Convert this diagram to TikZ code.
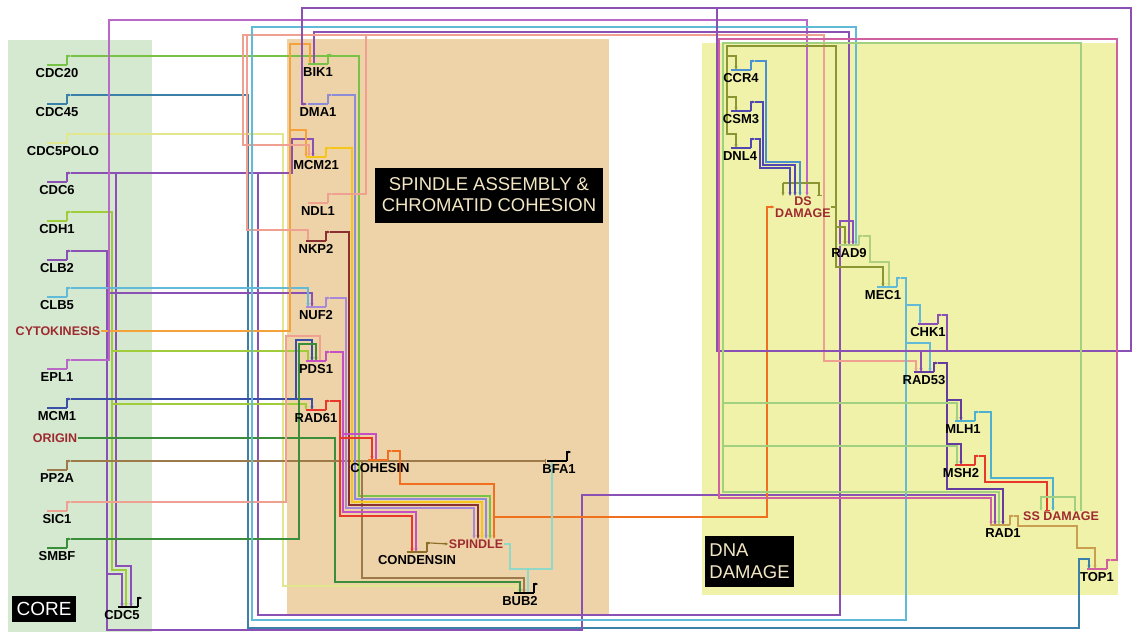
\documentclass[tikz,border=0pt]{standalone}
\usepackage{fontspec}
\setmainfont{Liberation Sans}
\usetikzlibrary{arrows.meta,calc}

\definecolor{corebg}{RGB}{213,232,208}
\definecolor{spinbg}{RGB}{239,211,168}
\definecolor{dnabg}{RGB}{240,242,170}
\definecolor{sigred}{RGB}{158,42,47}
\definecolor{boxtext}{RGB}{242,230,196}
\definecolor{cgreen}{RGB}{120,194,70}
\definecolor{cgreen2}{RGB}{160,208,128}
\definecolor{cteal}{RGB}{58,128,168}
\definecolor{cpale}{RGB}{226,230,140}
\definecolor{cpurple}{RGB}{138,80,180}
\definecolor{cdpurple}{RGB}{100,60,160}
\definecolor{cygreen}{RGB}{160,204,60}
\definecolor{clblue}{RGB}{96,186,216}
\definecolor{corange}{RGB}{246,162,58}
\definecolor{cmagenta}{RGB}{186,104,200}
\definecolor{cnavy}{RGB}{58,80,168}
\definecolor{cdgreen}{RGB}{58,142,58}
\definecolor{cbrown}{RGB}{156,122,74}
\definecolor{csalmon}{RGB}{240,160,144}
\definecolor{clav}{RGB}{140,140,216}
\definecolor{cyellow}{RGB}{245,197,24}
\definecolor{cdbrown}{RGB}{139,48,48}
\definecolor{clilac}{RGB}{168,136,216}
\definecolor{cpds}{RGB}{196,80,196}
\definecolor{cred}{RGB}{232,56,44}
\definecolor{cdorange}{RGB}{240,112,32}
\definecolor{colive}{RGB}{138,150,50}
\definecolor{cblue}{RGB}{74,144,208}
\definecolor{cindigo}{RGB}{80,72,176}
\definecolor{cpgreen}{RGB}{176,208,128}
\definecolor{ccyan}{RGB}{80,176,208}
\definecolor{ctan}{RGB}{200,160,80}
\definecolor{cpink}{RGB}{208,96,160}
\definecolor{cpaleteal}{RGB}{144,216,200}
\definecolor{ccond}{RGB}{139,111,42}

\pgfdeclarelayer{panels}
\pgfdeclarelayer{wires}
\pgfsetlayers{panels,wires,main}

\tikzset{
  gene/.style={anchor=north,inner sep=0.5pt,font=\fontsize{13}{13}\selectfont\bfseries},
  signal/.style={inner sep=0.5pt,text=sigred,align=center,font=\fontsize{12.5}{12}\selectfont\bfseries},
  wire/.style={line width=1.2pt},
  act/.style={-{Stealth[length=3.5pt,width=3pt]}},
  inh/.style={-{Bar[width=5pt]}},
  blackbox/.style={fill=black,text=boxtext,inner sep=3pt,font=\fontsize{18.5}{21}\selectfont}
}

% gene symbol: [label shift]{name}{colour}{x}{y}{text}
\newcommand\genesym[6][0]{%
  \coordinate (#2-in) at (#4,#5);
  \coordinate (#2-out) at (#4+14,#5-9);
  \draw[#3,line width=2.2pt] (#4-10,#5) -- (#4+10,#5);
  \draw[#3,line width=1.2pt,-{Stealth[length=2.5pt,width=2.5pt]}] (#4+10,#5) -- (#4+10,#5-9) -- (#4+14,#5-9);
  \node[gene] (#2) at (#4+#1,#5+3) {#6};
}

\begin{document}
\begin{tikzpicture}[x=1pt,y=-1pt]
  \useasboundingbox (0,0) rectangle (1134,632);

  % panels
  \begin{pgfonlayer}{panels}
    \fill[corebg] (8,40) rectangle (152,632);
    \fill[spinbg] (287,39) rectangle (609,616);
    \fill[dnabg] (702,43) rectangle (1118,595);
  \end{pgfonlayer}

  % core
  \genesym{cdc20}{cgreen}{57}{65}{CDC20}
  \genesym{cdc45}{cteal}{57}{104}{CDC45}
  \genesym[6]{cdc5polo}{cpale}{57}{143}{CDC5POLO}
  \genesym{cdc6}{cpurple}{57}{182}{CDC6}
  \genesym{cdh1}{cygreen}{57}{221}{CDH1}
  \genesym{clb2}{cpurple}{57}{260}{CLB2}
  \genesym{clb5}{clblue}{57}{297}{CLB5}
  \genesym{epl1}{cmagenta}{57}{369}{EPL1}
  \genesym{mcm1}{cnavy}{57}{408}{MCM1}
  \genesym{pp2a}{cbrown}{57}{470}{PP2A}
  \genesym{sic1}{csalmon}{57}{511}{SIC1}
  \genesym{smbf}{cdgreen}{57}{548}{SMBF}
  \genesym[-6]{cdc5}{black}{128}{607}{CDC5}
  \node[signal] (cyto) at (58,331) {CYTOKINESIS};
  \node[signal] (origin) at (55,438) {ORIGIN};
  \node[blackbox,text=white,minimum width=64pt,minimum height=26pt,font=\fontsize{19}{19}\selectfont] (core) at (44,609) {CORE};

  % spindle assembly
  \genesym{bik1}{cgreen}{318}{64}{BIK1}
  \genesym{dma1}{clav}{318}{104}{DMA1}
  \genesym{mcm21}{cyellow}{316}{157}{MCM21}
  \genesym{ndl1}{csalmon}{318}{203}{NDL1}
  \genesym{nkp2}{cdbrown}{316}{241}{NKP2}
  \genesym{nuf2}{clilac}{316}{307}{NUF2}
  \genesym{pds1}{cpds}{316}{361}{PDS1}
  \genesym{rad61}{cred}{316}{410}{RAD61}
  \genesym[2]{cohesin}{cdorange}{378}{460}{COHESIN}
  \genesym{condensin}{ccond}{417}{552}{CONDENSIN}
  \genesym[2]{bfa1}{black}{557}{461}{BFA1}
  \genesym[-4]{bub2}{black}{524}{593}{BUB2}
  \node[signal] (spindle) at (476,544) {SPINDLE};
  \node[blackbox,minimum width=228pt,minimum height=55pt,align=center] (spin) at (489,195) {SPINDLE ASSEMBLY \&\\CHROMATID COHESION};

  % dna damage
  \genesym{ccr4}{cblue}{741}{70}{CCR4}
  \genesym{csm3}{cindigo}{741}{111}{CSM3}
  \genesym[-1]{dnl4}{cindigo}{741}{148}{DNL4}
  \genesym{rad9}{cpgreen}{849}{245}{RAD9}
  \genesym[-4]{mec1}{clblue}{887}{287}{MEC1}
  \genesym{chk1}{cpurple}{928}{324}{CHK1}
  \genesym{rad53}{cdpurple}{924}{372}{RAD53}
  \genesym[-2]{mlh1}{ccyan}{965}{421}{MLH1}
  \genesym[-4]{msh2}{cred}{965}{465}{MSH2}
  \genesym[3]{rad1}{ctan}{1000}{525}{RAD1}
  \genesym{top1}{cpink}{1097}{569}{TOP1}
  \node[signal] (dsd) at (803,207) {DS\\DAMAGE};
  \node[signal] (ssd) at (1061,516) {SS DAMAGE};
  \node[blackbox,minimum width=89pt,minimum height=51pt,align=left,font=\fontsize{18.5}{22}\selectfont] (dna) at (749.5,561.5) {DNA\\DAMAGE};

  \begin{pgfonlayer}{wires}
  % core outputs
  \draw[wire,cgreen,act] (cdc20-out) -- (359,56) -- (359,496) -- (490,496) -- (490,0 |- spindle.north);
  \draw[wire,cteal,act] (cdc45-out) -- (248,95) -- (248,628) -- (1079,628) -- (1079,559) -- (1089,559) -- (1089,0 |- top1-in);
  \draw[wire,cpale,act] (cdc5polo-out) -- (283,134) -- (283,586) -- (516,586) -- (516,0 |- bub2-in);
  \draw[wire,cpurple,act] (cdc6-out) -- (116,173) coordinate (cdc6-a) -- (258,173) coordinate (cdc6-b) -- (292,173) -- (292,139) -- (313,139) -- (313,0 |- mcm21-in);
  \draw[wire,cpurple,act] (cdc6-a) -- (116,566) -- (131,566) -- (131,0 |- cdc5-in);
  \draw[wire,cpurple,act] (cdc6-b) -- (258,615) -- (840,615) -- (840,221) -- (853,221) -- (853,0 |- rad9-in);
  \draw[wire,cygreen,act] (cdh1-out) -- (112,212) -- (112,351) coordinate (cdh1-a) -- (112,404) coordinate (cdh1-b) -- (112,570) -- (126,570) -- (126,0 |- cdc5-in);
  \draw[wire,cygreen,inh] (cdh1-a) -- (308,351) -- (308,0 |- pds1-in);
  \draw[wire,cygreen,act] (cdh1-b) -- (306,404) -- (306,0 |- rad61-in);
  \draw[wire,cpurple,act] (clb2-out) -- (107,251) -- (107,293) coordinate (clb2-a) -- (107,574) coordinate (clb2-b) -- (122,574) -- (122,0 |- cdc5-in);
  \draw[wire,cpurple,act] (clb2-a) -- (312,293) -- (312,0 |- nuf2-in);
  \draw[wire,cpurple,act] (clb2-b) -- (107,630) -- (582,630) -- (582,495) -- (995,495) -- (995,0 |- rad1-in);
  \draw[wire,clblue,act] (clb5-out) -- (308,288) -- (308,0 |- nuf2-in);
  \draw[wire,corange,act] (cyto.east) -- (290,331) -- (290,130) coordinate (cyto-a) -- (290,44) -- (310,44) -- (310,0 |- bik1-in);
  \draw[wire,corange,act] (cyto-a) -- (306,130) -- (306,0 |- mcm21-in);
  \draw[wire,cmagenta,act] (epl1-out) -- (109,360) -- (109,20) -- (807,20) -- (807,0 |- dsd.north);
  \draw[wire,cnavy,act] (mcm1-out) -- (296,399) coordinate (mcm1-a) -- (312,399) -- (312,0 |- rad61-in);
  \draw[wire,cnavy,act] (mcm1-a) -- (296,340) -- (312,340) -- (312,0 |- pds1-in);
  \draw[wire,cdgreen,act] (origin.east) -- (335,438) -- (335,582) -- (520,582) -- (520,0 |- bub2-in);
  \draw[wire,cbrown,inh] (pp2a-out) -- (362,461) coordinate (pp2a-a) -- ($(bfa1-in)+(-11,0)$);
  \draw[wire,cbrown,act] (pp2a-a) -- (362,578) -- (524,578) -- (524,0 |- bub2-in);
  \draw[wire,csalmon,inh] (sic1-out) -- (286,502) -- (286,336) -- (320,336) -- (320,0 |- pds1-in);
  \draw[wire,cdgreen,act] (smbf-out) -- (299,539) -- (299,344) -- (316,344) -- (316,0 |- pds1-in);

  % spindle assembly
  \draw[wire,cpurple,act] (314,0 |- bik1-in) -- (314,32) -- (849,32) -- (849,0 |- rad9-in);
  \draw[wire,clav,act] (dma1-out) -- (355,95) -- (355,499) -- (486,499) -- (486,0 |- spindle.north);
  \draw[wire,cyellow,act] (mcm21-out) -- (352,148) -- (352,502) -- (482,502) -- (482,0 |- spindle.north);
  \draw[wire,csalmon,act] (ndl1-out) -- (366,194) -- (366,35) coordinate (ndl1-a) -- (824,35) -- (824,361) -- (916,361) -- (916,0 |- rad53-in);
  \draw[wire,csalmon,act] (ndl1-a) -- (247,35) coordinate (ndl1-b) -- (243,35) -- (243,145) -- (309,145) -- (309,0 |- mcm21-in);
  \draw[wire,csalmon,act] (ndl1-b) -- (247,230) -- (308,230) -- (308,0 |- nkp2-in);
  \draw[wire,cdbrown,act] (nkp2-out) -- (349,232) -- (349,505) -- (478,505) -- (478,0 |- spindle.north);
  \draw[wire,clilac,act] (nuf2-out) -- (346,298) -- (346,508) -- (474,508) -- (474,0 |- spindle.north);
  \draw[wire,cpds,act] (pds1-out) -- (343,352) -- (343,434) coordinate (pds1-a) -- (343,512) -- (416,512) -- (416,0 |- condensin-in);
  \draw[wire,cpds,inh] (pds1-a) -- (376,434) -- (376,0 |- cohesin-in);
  \draw[wire,cred,act] (rad61-out) -- (340,401) -- (340,438) coordinate (rad61-a) -- (340,516) -- (412,516) -- (412,0 |- condensin-in);
  \draw[wire,cred,act] (rad61-a) -- (372,438) -- (372,0 |- cohesin-in);
  \draw[wire,cdorange,act] (cohesin-out) -- (400,451) -- (400,484) -- (494,484) -- (494,517) coordinate (coh-a) -- (494,0 |- spindle.north);
  \draw[wire,cdorange,act] (coh-a) -- (767,517) -- (767,0 |- dsd.west) -- (dsd.west);
  \draw[wire,ccond,act] (condensin-out) -- (spindle.west);
  \draw[wire,cpaleteal,act] (spindle.east) -- (510,0 |- spindle.east) -- (510,569) -- (528,569) coordinate (sp-a) -- (552,569) -- (552,0 |- bfa1-in);
  \draw[wire,cpaleteal,act] (sp-a) -- (528,0 |- bub2-in);

  % dna damage
  \draw[wire,colive,act] (dsd.east) -- (836,0 |- dsd.east) coordinate (ds-a) -- (836,46) -- (727,46) -- (727,56) coordinate (ds-b) -- (727,97) coordinate (ds-c) -- (727,134) -- (736,134) -- (736,0 |- dnl4-in);
  \draw[wire,colive,act] (ds-b) -- (736,56) -- (736,0 |- ccr4-in);
  \draw[wire,colive,act] (ds-c) -- (736,97) -- (736,0 |- csm3-in);
  \draw[wire,colive,act] (ds-a) -- (836,227) coordinate (ds-d) -- (845,227) -- (845,0 |- rad9-in);
  \draw[wire,colive,act] (ds-d) -- (836,267) -- (883,267) -- (883,0 |- mec1-in);
  \coordinate (ds-l) at (783,183);
  \draw[wire,colive,act] (ds-l) -- (783,0 |- dsd.north);
  \draw[wire,colive,inh] (ds-l) -- (819,183) -- (819,0 |- dsd.north);
  \draw[wire,cblue,act] (ccr4-out) -- (766,61) -- (766,162) -- (800,162) -- (800,0 |- dsd.north);
  \draw[wire,cindigo,act] (csm3-out) -- (763,102) -- (763,165) -- (795,165) -- (795,0 |- dsd.north);
  \draw[wire,cindigo,act] (dnl4-out) -- (760,139) -- (760,168) -- (790,168) -- (790,0 |- dsd.north);
  \draw[wire,cpgreen,act] (rad9-out) -- (870,236) -- (870,262) -- (889,262) -- (889,0 |- mec1-in);
  \draw[wire,clblue,act] (mec1-out) -- (906,278) -- (906,305) coordinate (mec1-a) -- (906,343) coordinate (mec1-b) -- (906,620) -- (252,620) -- (252,27) -- (856,27) -- (856,0 |- rad9-in);
  \draw[wire,clblue,act] (mec1-a) -- (920,305) -- (920,0 |- chk1-in);
  \draw[wire,clblue,act] (mec1-b) -- (930,343) -- (930,0 |- rad53-in);
  \draw[wire,cpurple,act] (chk1-out) -- (947,315) -- (947,351) coordinate (chk1-a) -- (1131,351) -- (1131,8) -- (302,8) -- (302,0 |- dma1-in) -- ($(dma1-in)+(-11,0)$);
  \draw[wire,cpurple] (chk1-a) -- (921,351) coordinate (chk1-b) -- (717,351) -- (717,8);
  \draw[wire,cpurple,act] (chk1-b) -- (921,0 |- rad53-in);
  \draw[wire,cdpurple,act] (rad53-out) -- (947,363) -- (947,400) coordinate (rad53-a) -- (947,444) coordinate (rad53-b) -- (947,489) -- (1003,489) -- (1003,0 |- rad1-in);
  \draw[wire,cdpurple,act] (rad53-a) -- (961,400) -- (961,0 |- mlh1-in);
  \draw[wire,cdpurple,act] (rad53-b) -- (961,444) -- (961,0 |- msh2-in);
  \draw[wire,ccyan,act] (mlh1-out) -- (991,412) -- (991,478) -- (1053,478) -- (1053,0 |- ssd.north);
  \draw[wire,cred,inh] (msh2-out) -- (985,456) -- (985,482) -- (1047,482) -- (1047,0 |- ssd.north);
  \draw[wire,cgreen2,act] (1081,0 |- ssd.north) -- (1081,43) -- (723,43) -- (723,403) coordinate (ss-a) -- (723,446) coordinate (ss-b) -- (723,492) -- (999,492) -- (999,0 |- rad1-in);
  \draw[wire,cgreen2,act] (ss-a) -- (957,403) -- (957,0 |- mlh1-in);
  \draw[wire,cgreen2,act] (ss-b) -- (957,446) -- (957,0 |- msh2-in);
  \draw[wire,cgreen2,act] (1075,0 |- ssd.north) -- (1075,497) -- (1041,497) -- (1041,0 |- ssd.north);
  \draw[wire,ctan,act] (rad1-out) -- (1018,516) -- (1018,526) -- (1077,526) -- (1077,548) -- (1095,548) -- (1095,0 |- top1-in);
  \draw[wire,cpink,act] (top1-out) -- (1117,560) -- (1117,39) -- (719,39) -- (719,498) -- (991,498) -- (991,0 |- rad1-in);
  \end{pgfonlayer}
\end{tikzpicture}
\end{document}
